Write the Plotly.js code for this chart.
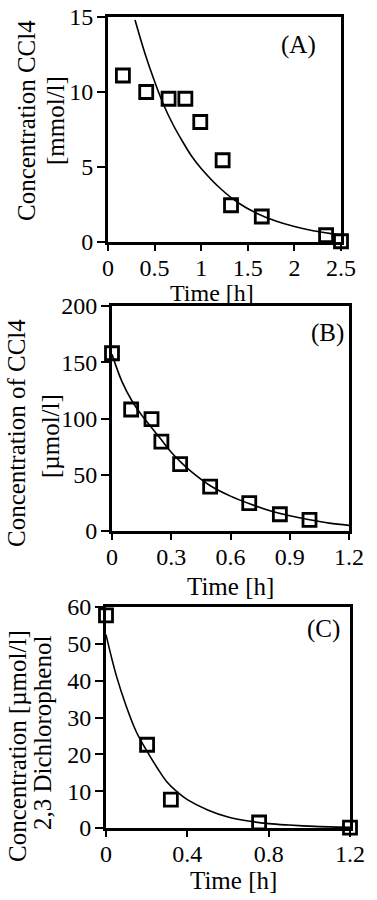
<!DOCTYPE html>
<html>
<head>
<meta charset="utf-8">
<script src="https://cdn.plot.ly/plotly-3.0.1.min.js"></script>
<style>html,body{margin:0;padding:0;background:#fff;}#chart{width:377px;height:900px;}</style>
</head>
<body>
<div id="chart"></div>
<script>
// Panel A: CCl4 [mmol/l]
const timeA = [0.16, 0.41, 0.65, 0.83, 0.99, 1.23, 1.32, 1.65, 2.34, 2.5];
const concA = [11.1, 10.0, 9.55, 9.55, 8.0, 5.45, 2.45, 1.7, 0.45, 0.05];
const fitTimeA = [0.29, 0.4, 0.5, 0.6, 0.7, 0.8, 0.9, 1.0, 1.2, 1.4, 1.6, 1.8, 2.0, 2.2, 2.4, 2.5];
const fitConcA = [14.8, 12.5, 10.7, 9.1, 7.8, 6.7, 5.7, 4.9, 3.6, 2.6, 1.9, 1.4, 1.03, 0.75, 0.55, 0.47];

// Panel B: CCl4 [µmol/l]
const timeB = [0, 0.097, 0.2, 0.25, 0.345, 0.497, 0.695, 0.85, 1.0];
const concB = [158, 108, 99.5, 79.5, 59.5, 39.5, 24.7, 14.9, 9.8];
const fitTimeB = [0, 0.05, 0.1, 0.15, 0.2, 0.25, 0.3, 0.35, 0.4, 0.5, 0.6, 0.7, 0.8, 0.9, 1.0, 1.1, 1.2];
const fitConcB = [157, 133, 116, 103, 92, 81, 70, 61, 53, 40, 31, 24, 18, 13.5, 10, 7, 5];

// Panel C: 2,3 Dichlorophenol [µmol/l]
const timeC = [0, 0.202, 0.319, 0.753, 1.2];
const concC = [57.7, 22.6, 7.7, 1.5, 0.1];
const fitTimeC = [0, 0.05, 0.1, 0.15, 0.2, 0.25, 0.3, 0.35, 0.4, 0.5, 0.6, 0.7, 0.8, 0.9, 1.0, 1.1, 1.2];
const fitConcC = [52.5, 41.5, 33, 26, 21, 16.5, 12.5, 9.8, 7.7, 4.9, 3.0, 1.9, 1.2, 0.8, 0.5, 0.3, 0.2];

const ticksXA = [0, 0.5, 1, 1.5, 2, 2.5];
const ticksXA_text = ['0', '0.5', '1', '1.5', '2', '2.5'];
const ticksXB = [0, 0.3, 0.6, 0.9, 1.2];
const ticksXB_text = ['0', '0.3', '0.6', '0.9', '1.2'];
const ticksXC = [0, 0.4, 0.8, 1.2];
const ticksXC_text = ['0', '0.4', '0.8', '1.2'];

const FONT = '"Liberation Serif", "Times New Roman", Times, serif';
const W = 377, H = 900;
const px = v => v / W;
const py = v => 1 - v / H;

const marker = {symbol: 'square-open', size: 13, color: '#000', line: {width: 2.8, color: '#000'}};
const fitLine = {color: '#000', width: 1.6, shape: 'spline'};

const traces = [
  {x: fitTimeA, y: fitConcA, xaxis: 'x', yaxis: 'y', mode: 'lines', line: fitLine, hoverinfo: 'skip', showlegend: false},
  {x: timeA, y: concA, xaxis: 'x', yaxis: 'y', mode: 'markers', marker: marker, cliponaxis: false, showlegend: false},
  {x: fitTimeB, y: fitConcB, xaxis: 'x2', yaxis: 'y2', mode: 'lines', line: fitLine, hoverinfo: 'skip', showlegend: false},
  {x: timeB, y: concB, xaxis: 'x2', yaxis: 'y2', mode: 'markers', marker: marker, cliponaxis: false, showlegend: false},
  {x: fitTimeC, y: fitConcC, xaxis: 'x3', yaxis: 'y3', mode: 'lines', line: fitLine, hoverinfo: 'skip', showlegend: false},
  {x: timeC, y: concC, xaxis: 'x3', yaxis: 'y3', mode: 'markers', marker: marker, cliponaxis: false, showlegend: false}
];

function xax(domain, anchor, range, vals, text) {
  return {domain: domain, anchor: anchor, range: range, tickvals: vals, ticktext: text,
    showgrid: false, zeroline: false, showline: true, linewidth: 3, linecolor: '#000', mirror: true,
    ticks: 'outside', ticklen: 6, tickwidth: 2, tickcolor: '#000', ticklabelstandoff: -4,
    tickfont: {family: FONT, size: 24, color: '#000'}, fixedrange: true};
}
function yax(domain, anchor, range, dtick) {
  return {domain: domain, anchor: anchor, range: range, dtick: dtick, tick0: 0,
    showgrid: false, zeroline: false, showline: true, linewidth: 3, linecolor: '#000', mirror: true,
    ticks: 'outside', ticklen: 8, tickwidth: 2, tickcolor: '#000', ticklabelstandoff: -1,
    tickfont: {family: FONT, size: 24, color: '#000'}, fixedrange: true};
}

function ann(text, x, y, angle, size) {
  return {text: text, xref: 'paper', yref: 'paper', x: px(x), y: py(y), xanchor: 'center', yanchor: 'middle',
    showarrow: false, textangle: angle || 0, font: {family: FONT, size: size || 25, color: '#000'}};
}

const layout = {
  width: W, height: H,
  margin: {l: 0, r: 0, t: 0, b: 0},
  paper_bgcolor: '#fff', plot_bgcolor: '#fff',
  font: {family: FONT, color: '#000'},
  showlegend: false,
  xaxis: xax([px(108), px(341)], 'y', [0, 2.5], ticksXA, ticksXA_text),
  yaxis: yax([py(242), py(17)], 'x', [0, 15], 5),
  xaxis2: xax([px(112), px(349)], 'y2', [0, 1.2], ticksXB, ticksXB_text),
  yaxis2: yax([py(531), py(306)], 'x2', [0, 200], 50),
  xaxis3: xax([px(106), px(350)], 'y3', [0, 1.2], ticksXC, ticksXC_text),
  yaxis3: yax([py(828), py(607)], 'x3', [0, 60], 10),
  annotations: [
    ann('(A)', 298, 45),
    ann('(B)', 327, 333),
    ann('(C)', 323, 629),
    ann('Time [h]', 212, 293, 0, 24),
    ann('Time [h]', 230, 586),
    ann('Time [h]', 233, 880),
    ann('Concentration CCl4', 26, 121, -90),
    ann('[mmol/l]', 55, 121, -90),
    ann('Concentration of CCl4', 17, 433, -90),
    ann('[µmol/l]', 50, 436, -90),
    ann('Concentration [µmol/l]', 17, 746, -90),
    ann('2,3 Dichlorophenol', 42, 733, -90)
  ]
};

Plotly.newPlot('chart', traces, layout, {staticPlot: true, displayModeBar: false});
</script>
</body>
</html>
